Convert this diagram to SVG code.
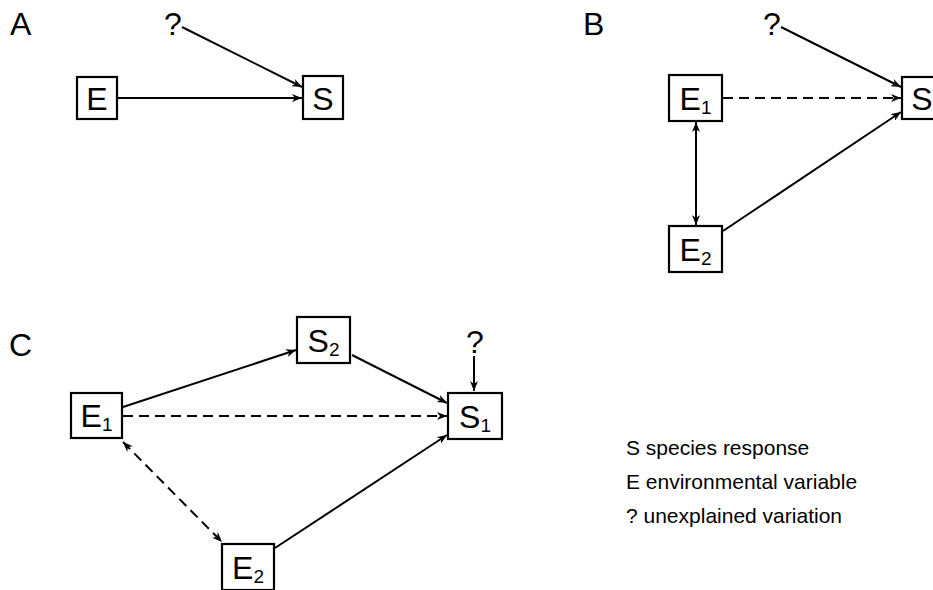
<svg xmlns="http://www.w3.org/2000/svg" width="933" height="590" viewBox="0 0 933 590">
  <style>
    text { font-family: "Liberation Sans", Arial, sans-serif; fill: #000; }
    .lbl { font-size: 32px; }
    .node text { font-size: 32px; text-anchor: middle; }
    .sub { font-size: 19px; }
    .node rect { fill: #fff; stroke: #000; stroke-width: 2.2; }
    .legend { font-size: 21px; }
    #connectors line { stroke: #000; stroke-width: 2; fill: none; }
    .dash { stroke-dasharray: 10 6; }
    .fwd { marker-end: url(#arr); }
    .both { marker-start: url(#arrS); marker-end: url(#arr); }
  </style>
  <defs>
    <marker id="arr" viewBox="0 0 10 8" refX="10" refY="4" markerWidth="10" markerHeight="8" markerUnits="userSpaceOnUse" orient="auto">
      <path d="M0,0 L10,4 L0,8 L3,4 z" fill="#000"/>
    </marker>
    <marker id="arrS" viewBox="0 0 10 8" refX="0" refY="4" markerWidth="10" markerHeight="8" markerUnits="userSpaceOnUse" orient="auto">
      <path d="M10,0 L0,4 L10,8 L7,4 z" fill="#000"/>
    </marker>
  </defs>

  <!-- panel letters -->
  <text class="lbl" x="10" y="35">A</text>
  <text class="lbl" x="583" y="35">B</text>
  <text class="lbl" x="9" y="356">C</text>

  <!-- unexplained-variation markers -->
  <text class="lbl" x="164" y="35">?</text>
  <text class="lbl" x="763" y="35">?</text>
  <text class="lbl" x="466" y="353">?</text>

  <g id="connectors">
    <!-- A -->
    <line class="fwd" x1="118" y1="98" x2="302" y2="98"/>
    <line class="fwd" x1="182" y1="27" x2="302" y2="87"/>
    <!-- B -->
    <line class="fwd" x1="781" y1="27" x2="901" y2="87"/>
    <line class="fwd dash" x1="723" y1="98" x2="901" y2="98"/>
    <line class="both" x1="696" y1="122" x2="696" y2="225"/>
    <line class="fwd" x1="723" y1="231" x2="901" y2="112"/>
    <!-- C -->
    <line class="fwd" x1="123" y1="407" x2="296" y2="350"/>
    <line class="fwd" x1="352" y1="355" x2="447" y2="403"/>
    <line class="fwd dash" x1="123" y1="416" x2="447" y2="416"/>
    <line class="fwd" x1="474" y1="356" x2="474" y2="391"/>
    <line class="both dash" x1="123" y1="442" x2="222" y2="542"/>
    <line class="fwd" x1="275" y1="548" x2="447" y2="435"/>
  </g>

  <!-- A nodes -->
  <g id="A_E" class="node"><rect x="77" y="77" width="40" height="42"/><text x="97" y="109.5">E</text></g>
  <g id="A_S" class="node"><rect x="303" y="76" width="40" height="43"/><text x="323" y="109.5">S</text></g>

  <!-- B nodes -->
  <g id="B_E1" class="node"><rect x="669" y="75" width="53" height="46"/><text x="695.5" y="109.5">E<tspan class="sub" dy="4">1</tspan></text></g>
  <g id="B_E2" class="node"><rect x="669" y="226" width="53" height="46"/><text x="695.5" y="260.5">E<tspan class="sub" dy="4">2</tspan></text></g>
  <g id="B_S" class="node"><rect x="902" y="77" width="40" height="42"/><text x="922" y="109.5">S</text></g>

  <!-- C nodes -->
  <g id="C_S2" class="node"><rect x="297" y="317" width="53" height="46"/><text x="323.5" y="351.5">S<tspan class="sub" dy="4">2</tspan></text></g>
  <g id="C_E1" class="node"><rect x="71" y="393" width="51" height="45"/><text x="96.5" y="427">E<tspan class="sub" dy="4">1</tspan></text></g>
  <g id="C_S1" class="node"><rect x="448" y="393" width="54" height="46"/><text x="475" y="427.5">S<tspan class="sub" dy="4">1</tspan></text></g>
  <g id="C_E2" class="node"><rect x="222" y="544" width="52" height="46"/><text x="248" y="578.5">E<tspan class="sub" dy="4">2</tspan></text></g>

  <!-- legend -->
  <g id="legend" class="legend">
    <text x="626" y="455">S species response</text>
    <text x="626" y="489">E environmental variable</text>
    <text x="626" y="523">? unexplained variation</text>
  </g>
</svg>
